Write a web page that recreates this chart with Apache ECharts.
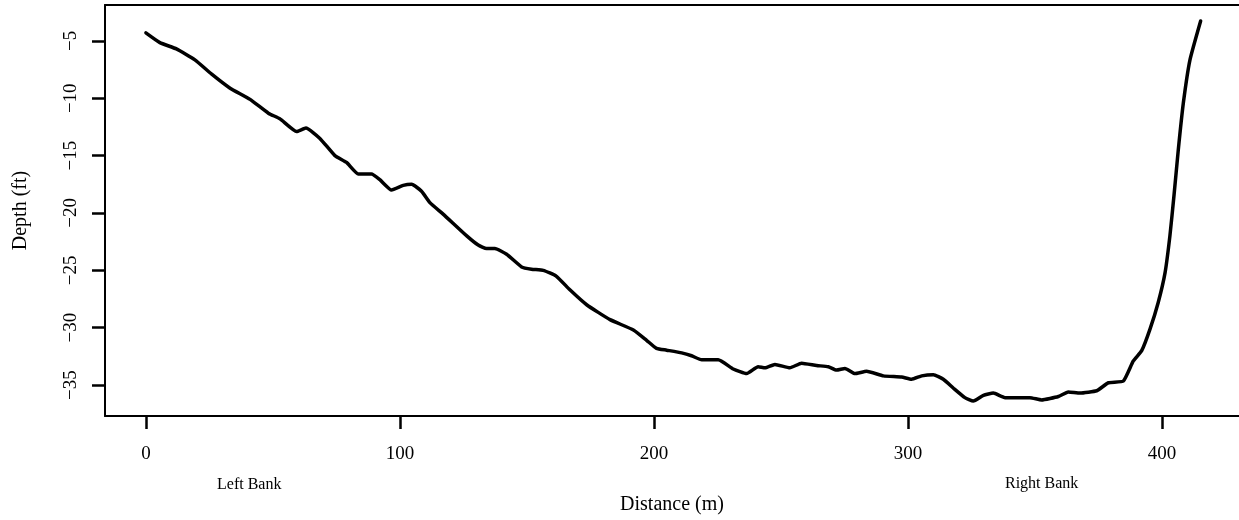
<!DOCTYPE html>
<html>
<head>
<meta charset="utf-8">
<script src="https://cdn.jsdelivr.net/npm/echarts@6/dist/echarts.min.js"></script>
<style>
  html, body { margin: 0; padding: 0; background: #fff; }
  #chart { width: 1239px; height: 520px; }
</style>
</head>
<body>
<div id="chart"></div>
<script>
// Profil de profondeur
const distance = [0, 5.5, 12, 19.3, 25.9, 33, 41, 48.2, 52.8, 59.3, 63, 68.5, 74.4, 79, 83.6, 88.8, 92.1, 96.7,
    101.3, 104.6, 108.5, 111.8, 117, 126.3, 130.8, 134.1, 137.4, 142, 147.9, 151.8, 156.4, 161.5, 166.9, 173.5,
    182.7, 191.9, 197.1, 201, 205, 210.9, 214.8, 218.8, 225.3, 231.2, 236.5, 241, 243.7, 247.6, 253.5, 258.1,
    264, 268.6, 271.9, 275.2, 279.1, 283.7, 290.3, 297.5, 301.4, 305.4, 310, 313.9, 318, 322.4, 325.7, 329.7,
    333.6, 338.2, 348, 352.6, 359.2, 363.1, 367.7, 374.3, 378.9, 384.8, 388.7, 392, 395.3, 398.5, 401.2, 403.1,
    404.7, 406.4, 408.4, 411, 415.2];
const depth = [-4.3, -5.15, -5.7, -6.65, -7.9, -9.1, -10.1, -11.3, -11.8, -12.9, -12.6, -13.5, -15.0, -15.6, -16.6, -16.6, -17.1, -18.0,
    -17.6, -17.5, -18.1, -19.1, -20.1, -22.0, -22.8, -23.1, -23.1, -23.6, -24.7, -24.9, -25.0, -25.5, -26.7, -28.0,
    -29.3, -30.2, -31.1, -31.8, -31.96, -32.2, -32.45, -32.8, -32.8, -33.6, -34.0, -33.4, -33.5, -33.2, -33.5, -33.1,
    -33.3, -33.4, -33.7, -33.55, -34.0, -33.8, -34.2, -34.3, -34.5, -34.2, -34.1, -34.5, -35.3, -36.1, -36.4, -35.9,
    -35.7, -36.1, -36.1, -36.3, -36.0, -35.6, -35.7, -35.5, -34.8, -34.65, -32.9, -32.0, -30.1, -27.8, -25.2, -22.0,
    -18.5, -14.5, -10.4, -6.65, -3.26];

const xTicks = [0, 100, 200, 300, 400];
const yTicks = [-35, -30, -25, -20, -15, -10, -5];

const police = "'Liberation Serif', 'Times New Roman', serif";

const chart = echarts.init(document.getElementById('chart'));
const option = {
    animation: false,
    backgroundColor: '#fff',
    textStyle: { fontFamily: police, color: '#000' },
    grid: { left: 105, right: 0, top: 5, bottom: 99 },
    xAxis: [{
        type: 'value',
        min: -16.1,
        max: 430.3,
        name: 'Distance (m)',
        nameLocation: 'middle',
        nameGap: 79,
        nameTextStyle: { fontFamily: police, fontSize: 20, color: '#000' },
        splitLine: { show: false },
        axisLine: { show: true, onZero: false, lineStyle: { color: '#000', width: 2 } },
        axisTick: { show: true, customValues: xTicks, length: 13, lineStyle: { color: '#000', width: 2.5 } },
        axisLabel: { customValues: xTicks, fontFamily: police, fontSize: 19, color: '#000', margin: 29 }
    }, {
        // ligne du cadre en haut
        type: 'value',
        position: 'top',
        min: -16.1,
        max: 430.3,
        splitLine: { show: false },
        axisLine: { show: true, onZero: false, lineStyle: { color: '#000', width: 2 } },
        axisTick: { show: false },
        axisLabel: { show: false }
    }],
    yAxis: {
        type: 'value',
        min: -37.7,
        max: -1.87,
        name: 'Depth (ft)',
        nameLocation: 'middle',
        nameRotate: 90,
        nameGap: 74,
        nameTextStyle: { fontFamily: police, fontSize: 20, color: '#000' },
        splitLine: { show: false },
        axisLine: { show: true, onZero: false, lineStyle: { color: '#000', width: 2 } },
        axisTick: { show: true, customValues: yTicks, length: 13, lineStyle: { color: '#000', width: 2.5 } },
        axisLabel: {
            customValues: yTicks,
            rotate: 90,
            fontFamily: police,
            fontSize: 19,
            color: '#000',
            margin: 24,
            formatter: v => String(v).replace('-', '\u2212')
        }
    },
    graphic: [
        { type: 'text', left: 217, top: 477, style: { text: 'Left Bank', font: "16px " + police, fill: '#000' } },
        { type: 'text', left: 1005, top: 476, style: { text: 'Right Bank', font: "16px " + police, fill: '#000' } }
    ],
    series: [{
        type: 'line',
        data: distance.map((d, i) => [d, depth[i]]),
        showSymbol: false,
        smooth: 0.15,
        lineStyle: { color: '#000', width: 3.5, join: 'round', cap: 'round' }
    }]
};
chart.setOption(option);
</script>
</body>
</html>
